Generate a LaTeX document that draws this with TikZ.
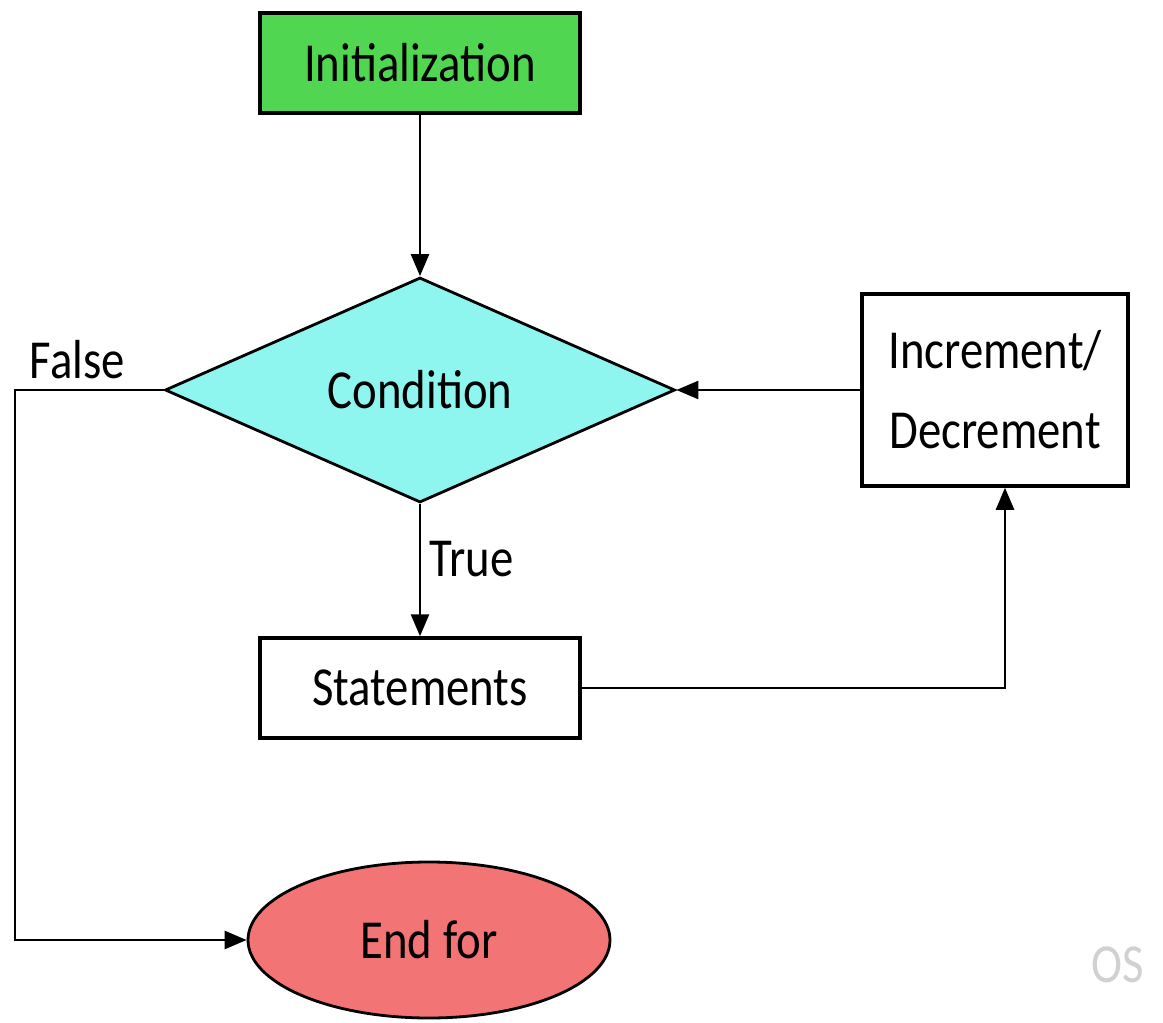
\documentclass[tikz,border=0pt]{standalone}
\usepackage{fontspec}
\setmainfont{Carlito}[FakeStretch=0.85]
\usetikzlibrary{positioning}
\usetikzlibrary{arrows.meta}
\usetikzlibrary{shapes.geometric}
\definecolor{initgreen}{RGB}{80,214,80}
\definecolor{condcyan}{RGB}{142,246,238}
\definecolor{endred}{RGB}{242,116,116}
\tikzset{
  flowbox/.style={draw, line width=3.5pt, minimum width=320pt, minimum height=100pt, inner sep=0pt},
  flowline/.style={line width=2.6pt, -{Triangle[length=22pt,width=18pt]}},
}

\begin{document}
\begin{tikzpicture}[x=1pt, y=-1pt, font=\fontsize{55}{80}\selectfont]
  \useasboundingbox (0,0) rectangle (1163,1023);
  \node[flowbox, fill=initgreen] (init) at (420,63) {Initialization};
  \node[diamond, draw, line width=2.8pt, fill=condcyan, minimum width=510pt,
    minimum height=225pt, inner sep=0pt] (cond) at (420,390) {Condition};
  \node[flowbox, minimum width=266pt, minimum height=192pt, align=center] (incr) at (995,390) {Increment/\\Decrement};
  \node[flowbox] (stmt) at (420,688) {Statements};
  \node[ellipse, draw, line width=2.8pt, fill=endred, minimum width=362pt,
    minimum height=156pt, inner sep=0pt] (endfor) at (429,940) {End for};
  \node[text=black!18] (mark) at (1118,965) {OS};
  \coordinate (falsecorner) at (15,390);
  \draw[flowline] (init) -- (cond);
  \draw[flowline] (cond.west) -- node[above, pos=0.58, inner sep=10pt] {False} (falsecorner) |- (endfor.west);
  \draw[flowline] (cond.south) -- node[right, pos=0.42, inner sep=8pt] {True} (stmt.north);
  \draw[flowline] (incr.west) -- (cond.east);
  \draw[flowline] (stmt.east) -| ([xshift=10pt]incr.south);
\end{tikzpicture}
\end{document}
